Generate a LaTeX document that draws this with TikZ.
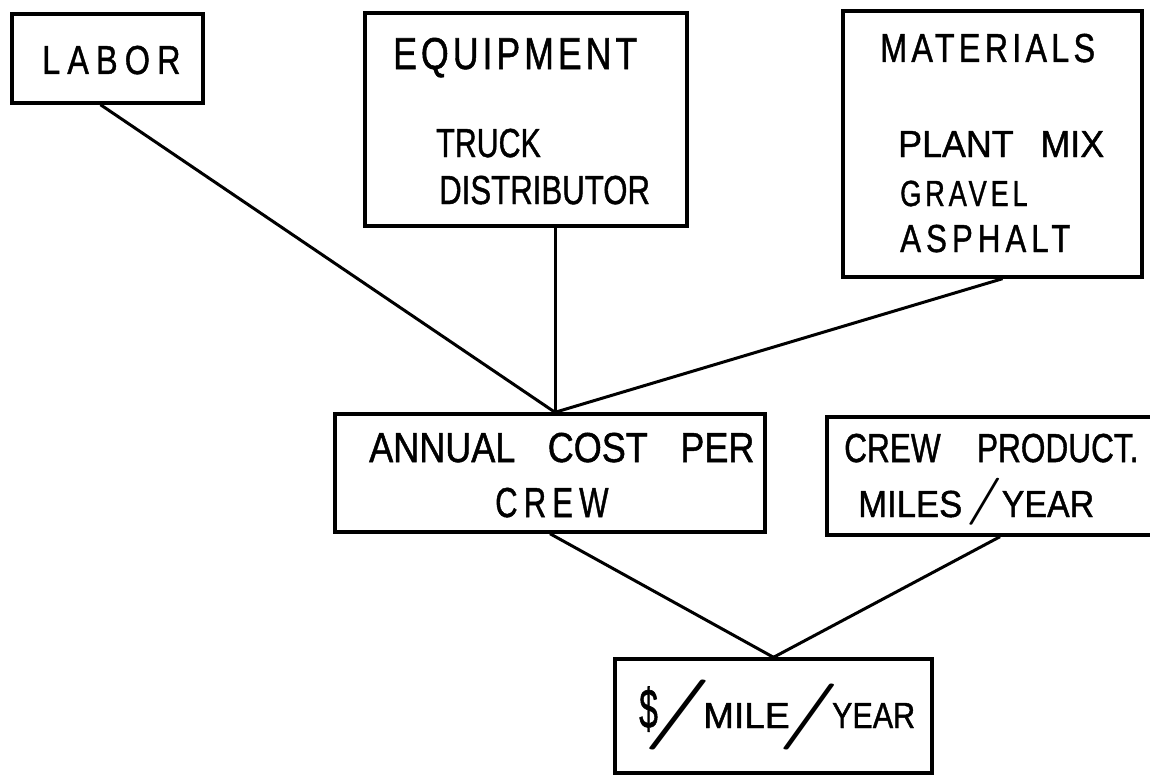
\documentclass[tikz,border=0pt]{standalone}
\usepackage{fontspec}
\usepackage{graphicx}
\newfontfamily\lib[FakeBold=1.2]{Liberation Sans}
\newcommand\T[3]{{\fontsize{#1}{#1}\selectfont\scalebox{#2}[1]{#3}}}
\newcommand\TS[4]{{\fontsize{#1}{#1}\selectfont\addfontfeature{LetterSpace=#3}\scalebox{#2}[1]{#4}}}
\newcommand\SL[4]{\hspace{#1pt}\raisebox{#4pt}{\normalfont\fontsize{10}{10}\selectfont\scalebox{#2}[#3]{/}}}
\tikzset{
  box/.style={draw, line width=3.4pt, inner sep=0pt, rectangle},
  lbl/.style={anchor=base west, inner sep=0pt, font=\lib},
  conn/.style={line width=3pt}
}
\begin{document}
\begin{tikzpicture}[x=1pt,y=-1pt]
\useasboundingbox[fill=white] (0,0) rectangle (1150,776);
% boxes
\node[box, minimum width=191pt, minimum height=89pt] (labor) at (107.5,58.5) {};
\node[box, minimum width=322pt, minimum height=213pt] (equip) at (526,119.5) {};
\node[box, minimum width=299pt, minimum height=266pt] (mater) at (992.5,144) {};
\node[box, minimum width=430pt, minimum height=118pt] (annual) at (550,473) {};
\node[box, minimum width=330pt, minimum height=118pt] (crew) at (992,476) {};
\node[box, minimum width=317pt, minimum height=114pt] (dollar) at (773.5,716) {};
% labels
\node[lbl] (tlabor) at (42,74) {\TS{40.5}{0.8}{22}{LABOR}};
\node[lbl] (tequip) at (393,69) {\TS{44.7}{0.8}{11}{EQUIPMENT}};
\node[lbl] (ttruck) at (436,157) {\T{40.5}{0.75}{TRUCK}};
\node[lbl] (tdist) at (439,204) {\T{40.5}{0.77}{DISTRIBUTOR}};
\node[lbl] (tmat) at (880,62) {\TS{40.5}{0.8}{13}{MATERIALS}};
\node[lbl] (tplant) at (898,157) {\T{37.7}{0.95}{PLANT\hspace{0.75em}MIX}};
\node[lbl] (tgravel) at (900,206) {\TS{36.3}{0.75}{14}{GRAVEL}};
\node[lbl] (tasph) at (900,252) {\TS{39.1}{0.8}{16}{ASPHALT}};
\node[lbl] (tannual) at (369,462) {\T{41.9}{0.86}{ANNUAL\hspace{0.9em}COST\hspace{0.9em}PER}};
\node[lbl] (tcrew1) at (495,517) {\TS{41.9}{0.74}{20}{CREW}};
\node[lbl] (tcrew2) at (844,462) {\T{40.5}{0.78}{CREW\hspace{1.15em}PRODUCT.}};
\node[lbl] (tmiles) at (858,517) {\T{37.7}{0.92}{MILES}\SL{3}{7.7}{4.7}{3.75}\hspace{-2pt}\T{37.7}{0.9}{YEAR}};
\node[lbl] (tdollar) at (639,728) {\T{56}{0.6}{\$}\SL{-16.7}{14.6}{7.0}{-4.5}\hspace{-11pt}\T{36.3}{1.02}{MILE}\SL{-13.5}{13.1}{6.6}{-5.5}\hspace{-9.5pt}\T{36.3}{0.84}{YEAR}};
% connectors
\coordinate (join) at ([xshift=5pt]annual.north);
\draw[conn] ([xshift=-7pt]labor.south) -- (join);
\draw[conn] (equip.south -| join) -- (join);
\draw[conn] ([xshift=10pt]mater.south) -- (join);
\draw[conn] (annual.south) -- (dollar.north);
\draw[conn] ([xshift=8pt]crew.south) -- (dollar.north);
\end{tikzpicture}
\end{document}
